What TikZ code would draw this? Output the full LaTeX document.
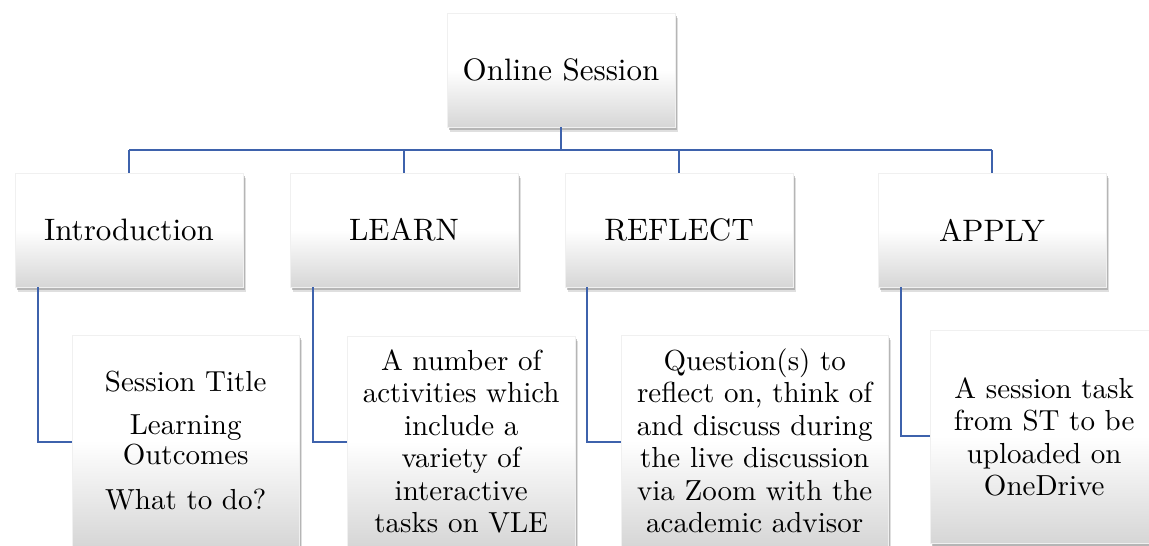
\documentclass[tikz,border=0pt]{standalone}
\usetikzlibrary{shadows}
\definecolor{conn}{RGB}{62,98,172}
\definecolor{boxbot}{RGB}{214,214,214}
\font\topfont="[lmroman10-regular]:mapping=tex-text" at 31pt
\font\childfont="[lmroman10-regular]:mapping=tex-text" at 29pt
\tikzset{
  x=1pt, y=-1pt,
  box/.style={shading=axis, top color=white, bottom color=boxbot, middle color=white,
    draw=gray!12, line width=0.4pt, inner sep=0pt, align=center,
    general shadow={shadow xshift=3pt, shadow yshift=-5pt, opacity=0.25, fill=gray},
    drop shadow={shadow xshift=1.5pt, shadow yshift=-3pt, opacity=0.5, fill=gray!90}},
  topbox/.style={box, minimum width=228pt, minimum height=114pt, font={\topfont\baselineskip=34pt}},
  childbox/.style={box, anchor=north west, font={\childfont\baselineskip=32.5pt}},
  link/.style={draw=conn, line width=2.8pt}
}
\begin{document}
\begin{tikzpicture}
\clip (0,0) rectangle (1149,546);
\fill[white] (0,0) rectangle (1149,546);
\coordinate (jr) at (561,150);
\coordinate (j1) at (129,150);
\coordinate (j2) at (404,150);
\coordinate (j3) at (679,150);
\coordinate (j4) at (992,150);
\coordinate (c1) at (38,442);
\coordinate (c2) at (313,442);
\coordinate (c3) at (587,442);
\coordinate (c4) at (901,436);
% boxes
\node[topbox] (root) at (561,70) {Online Session};
\node[topbox] (intro) at (129,230) {Introduction};
\node[topbox] (learn) at (404,230) {LEARN};
\node[topbox] (reflect) at (679,230) {REFLECT};
\node[topbox] (apply) at (992,230) {APPLY};
\node[childbox, minimum width=227pt, minimum height=211pt] (introc) at (72,335)
  {Session Title\\[11pt]Learning\\[-3pt]Outcomes\\[13pt]What to do?};
\node[childbox, minimum width=228pt, minimum height=210pt] (learnc) at (347,336)
  {A number of\\activities which\\include a\\variety of\\interactive\\tasks on VLE};
\node[childbox, minimum width=267pt, minimum height=211pt] (reflectc) at (621,335)
  {Question(s) to\\reflect on, think of\\and discuss during\\the live discussion\\via Zoom with the\\academic advisor};
\node[childbox, minimum width=228pt, minimum height=213pt] (applyc) at (930,330)
  {A session task\\from ST to be\\uploaded on\\OneDrive};
% links
\draw[link] (root.south) -- (jr);
\draw[link] (j1) -- (j4);
\draw[link] (j1) -- (intro.north);
\draw[link] (j2) -- (learn.north);
\draw[link] (j3) -- (reflect.north);
\draw[link] (j4) -- (apply.north);
\draw[link] (intro.south west -| c1) -- (c1) -- (c1 -| introc.west);
\draw[link] (learn.south west -| c2) -- (c2) -- (c2 -| learnc.west);
\draw[link] (reflect.south west -| c3) -- (c3) -- (c3 -| reflectc.west);
\draw[link] (apply.south west -| c4) -- (c4) -- (c4 -| applyc.west);
\end{tikzpicture}
\end{document}
